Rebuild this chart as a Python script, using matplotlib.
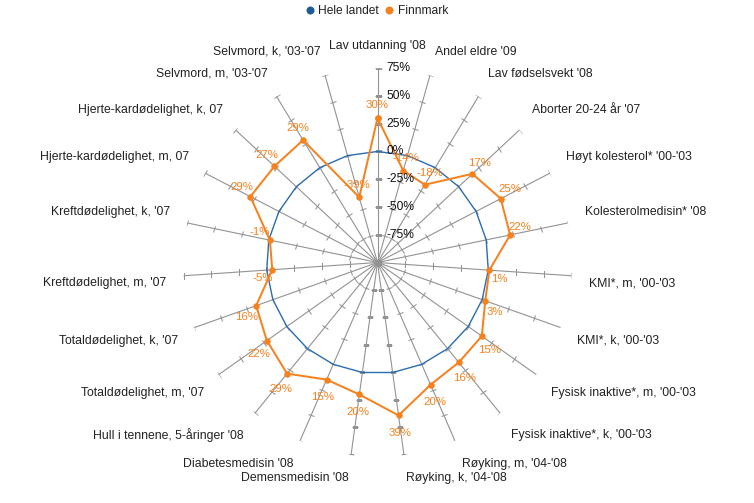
import numpy as np
import matplotlib
matplotlib.use("Agg")
import matplotlib.pyplot as plt
from matplotlib.markers import MarkerStyle
from matplotlib.transforms import Affine2D
from matplotlib.lines import Line2D

plt.rcParams['font.family'] = ['Liberation Sans', 'DejaVu Sans']

categories = [
    "Lav utdanning '08", "Andel eldre '09", "Lav fødselsvekt '08", "Aborter 20-24 år '07",
    "Høyt kolesterol* '00-'03", "Kolesterolmedisin* '08", "KMI*, m, '00-'03", "KMI*, k, '00-'03",
    "Fysisk inaktive*, m, '00-'03", "Fysisk inaktive*, k, '00-'03", "Røyking, m, '04-'08",
    "Røyking, k, '04-'08", "Demensmedisin '08", "Diabetesmedisin '08", "Hull i tennene, 5-åringer '08",
    "Totaldødelighet, m, '07", "Totaldødelighet, k, '07", "Kreftdødelighet, m, '07",
    "Kreftdødelighet, k, '07", "Hjerte-kardødelighet, m, 07", "Hjerte-kardødelighet, k, 07",
    "Selvmord, m, '03-'07", "Selvmord, k, '03-'07",
]
hele_landet = [0] * 23
finnmark = [30, -14, -18, 17, 25, 22, 1, 3, 15, 16, 20, 39, 20, 15, 29, 22, 16, -5, -1, 29, 27, 29, -39]
radial_ticks = [-100, -75, -50, -25, 0, 25, 50, 75]
radial_labels = [-75, -50, -25, 0, 25, 50, 75]

BLUE = '#2b6cb0'
BLUE_DARK = '#1f5a9a'
ORANGE = '#f5821f'
GRAY = '#939393'
TXT = '#222222'

W, H = 754, 503
fig = plt.figure(figsize=(W / 100, H / 100), dpi=100)
cx, cy, R = 377.5, 262.5, 194.3
ax = fig.add_axes([(cx - R) / W, (H - cy - R) / H, 2 * R / W, 2 * R / H], projection='polar')
ax.set_theta_zero_location('N')
ax.set_theta_direction(-1)
ax.set_ylim(-100, 75)
ax.axis('off')

n = len(categories)
theta = np.arange(n) * 2 * np.pi / n
pt = 0.72

# spokes with ticks
for t in theta:
    ax.plot([t, t], [-100, 75], color=GRAY, lw=0.8, zorder=1)
    ms = MarkerStyle('_', transform=Affine2D().rotate_deg(-np.degrees(t)))
    ax.plot([t] * len(radial_ticks), radial_ticks, ls='none', marker=ms, ms=7 * pt,
            mew=0.75, color=GRAY, zorder=1)

# series
tc = np.append(theta, theta[0])
ax.plot(tc, hele_landet + hele_landet[:1], color=BLUE, lw=1.0, zorder=3)
ax.plot(tc, finnmark + finnmark[:1], color=ORANGE, lw=2.0 * pt, zorder=4,
        marker='o', ms=6.5 * pt, mew=0)

# data labels
for t, v in zip(theta, finnmark):
    s, c = np.sin(t), np.cos(t)
    dx = 10 * s
    dy_screen = -(7 + 6 * c) if c > 0 else (8 + 10 * abs(c))
    ax.annotate(f'{v}%', xy=(t, v), xytext=(dx, -dy_screen), textcoords='offset pixels',
                ha='center', va='center', color=ORANGE, fontsize=11.5 * pt, zorder=5,
                annotation_clip=False)

# radial labels
for v in radial_labels:
    ax.annotate(f'{v}%', xy=(0, v), xytext=(9, 0), textcoords='offset pixels',
                ha='left', va='center', color='#111111', fontsize=12 * pt, zorder=5,
                annotation_clip=False)

# category labels
r_lab = -100 + 217 / (R / 175)
for t, lab in zip(theta, categories):
    s, c = np.sin(t), np.cos(t)
    if abs(s) < 1e-6:
        ha = 'center'
    elif s > 0:
        ha = 'left'
    else:
        ha = 'right'
    dx = -5 * s
    dy = 6 * np.sign(c) * abs(s) if abs(c) > 1e-6 else 0
    ax.annotate(lab, xy=(t, r_lab), xytext=(dx, dy), textcoords='offset pixels',
                ha=ha, va='center', color=TXT, fontsize=12.3 * pt, annotation_clip=False)

# legend
handles = [Line2D([], [], ls='none', marker='o', ms=8 * pt, color=BLUE_DARK, mew=0),
           Line2D([], [], ls='none', marker='o', ms=8 * pt, color=ORANGE, mew=0)]
fig.legend(handles, ['Hele landet', 'Finnmark'], loc='center', bbox_to_anchor=(0.5, 1 - 11 / H),
           ncol=2, frameon=False, fontsize=12 * pt, handlelength=0.7, handletextpad=0.35,
           columnspacing=0.5, labelcolor='#222222', borderpad=0)

fig.savefig('out.png', dpi=100)
